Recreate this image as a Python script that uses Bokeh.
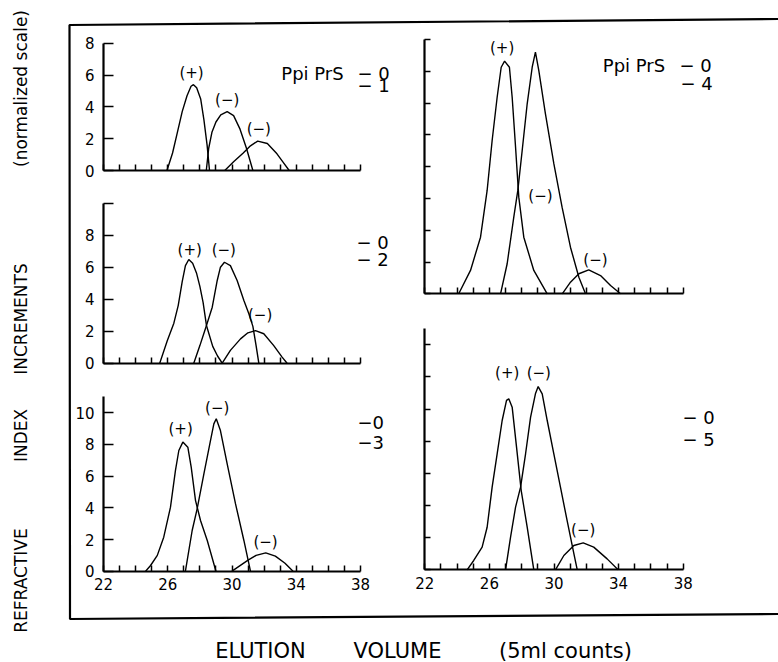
import math
from bokeh.plotting import figure
from bokeh.models import Range1d, LinearAxis, FixedTicker
from bokeh.core.properties import value
from bokeh.embed import file_html
from bokeh.resources import INLINE

# ---------------- data ----------------
x_ticks = list(range(22, 39))
x_tick_labels = [22, 26, 30, 34, 38]

# Panel 1: PpiPrS 0 / 1
p1_plus_x = [25.95, 26.3, 26.6, 26.9, 27.2, 27.45, 27.6, 27.8, 28.05, 28.25, 28.45, 28.6]
p1_plus_y = [0, 1.1, 2.4, 3.7, 4.7, 5.3, 5.4, 5.2, 4.5, 3.2, 1.6, 0]
p1_minA_x = [28.4, 28.55, 28.75, 29.0, 29.3, 29.7, 30.1, 30.5, 30.9, 31.3]
p1_minA_y = [0, 1.4, 2.4, 3.05, 3.5, 3.7, 3.45, 2.6, 1.4, 0]
p1_minB_x = [29.55, 30.1, 30.7, 31.15, 31.6, 32.2, 32.8, 33.2, 33.56]
p1_minB_y = [0, 0.55, 1.1, 1.55, 1.85, 1.7, 1.05, 0.5, 0]

# Panel 2: 0 / 2
p2_plus_x = [25.5, 25.97, 26.38, 26.65, 26.9, 27.1, 27.31, 27.55, 27.8, 28.0, 28.2, 28.41, 28.8, 29.1, 29.39]
p2_plus_y = [0, 1.4, 2.5, 3.6, 5.1, 6.1, 6.48, 6.25, 5.6, 4.8, 3.8, 2.36, 1.05, 0.45, 0]
p2_minA_x = [27.62, 28.0, 28.41, 28.77, 29.08, 29.28, 29.53, 29.9, 30.32, 30.74, 31.05, 31.3, 31.5, 31.67]
p2_minA_y = [0, 1.1, 2.36, 3.5, 5.17, 6.0, 6.31, 6.1, 5.17, 3.92, 3.09, 2.3, 1.1, 0]
p2_minB_x = [29.39, 29.9, 30.53, 30.99, 31.46, 31.98, 32.6, 33.12, 33.43]
p2_minB_y = [0, 0.8, 1.52, 1.9, 2.04, 1.84, 1.1, 0.38, 0]

# Panel 3: 0 / 3
p3_plus_x = [24.62, 24.93, 25.35, 25.75, 26.17, 26.48, 26.69, 26.94, 27.25, 27.46, 27.73, 28.04, 28.46, 28.75, 29.0]
p3_plus_y = [0, 0.36, 1.0, 2.15, 4.04, 6.36, 7.62, 8.15, 7.83, 6.57, 4.46, 3.2, 1.94, 0.9, 0]
p3_minA_x = [27.1, 27.52, 27.83, 28.25, 28.66, 28.87, 29.02, 29.28, 29.7, 30.22, 30.74, 31.15]
p3_minA_y = [0, 2.57, 3.94, 6.15, 8.25, 9.3, 9.62, 8.88, 6.78, 4.25, 1.94, 0]
p3_minB_x = [30.0, 30.5, 31.0, 31.5, 32.1, 32.7, 33.3, 33.8]
p3_minB_y = [0, 0.35, 0.7, 1.0, 1.16, 0.95, 0.5, 0]

# Panel 4: PpiPrS 0 / 4
p4_plus_x = [24.1, 24.83, 25.45, 25.86, 26.17, 26.48, 26.73, 26.94, 27.24, 27.41, 27.62, 27.82, 28.13, 28.75, 29.58]
p4_plus_y = [0, 1.47, 3.56, 6.5, 9.64, 12.36, 14.25, 14.63, 14.25, 12.36, 9.22, 6.08, 3.56, 1.47, 0]
p4_minA_x = [26.69, 27.1, 27.51, 27.76, 28.03, 28.34, 28.65, 28.85, 29.06, 29.47, 29.99, 30.5, 31.02, 31.54, 31.95]
p4_minA_y = [0, 1.89, 4.82, 6.5, 9.01, 11.95, 14.25, 15.2, 14.04, 11.32, 8.18, 5.45, 2.93, 1.04, 0]
p4_minB_x = [30.51, 31.02, 31.54, 32.15, 32.88, 33.5, 34.12]
p4_minB_y = [0, 0.73, 1.26, 1.51, 1.15, 0.52, 0]

# Panel 5: 0 / 5
p5_plus_x = [24.62, 25.03, 25.55, 25.86, 26.17, 26.48, 26.79, 27.06, 27.2, 27.41, 27.68, 27.97, 28.34, 28.75]
p5_plus_y = [0, 0.58, 1.41, 2.65, 5.14, 7.22, 9.29, 10.54, 10.64, 10.12, 7.63, 4.93, 2.65, 0]
p5_minA_x = [27.0, 27.31, 27.62, 27.93, 28.24, 28.55, 28.85, 29.02, 29.27, 29.58, 29.99, 30.4, 30.81, 31.23, 31.44]
p5_minA_y = [0, 2.03, 3.9, 5.14, 7.22, 9.5, 10.95, 11.4, 10.95, 9.29, 7.22, 5.14, 3.07, 1.0, 0]
p5_minB_x = [30.09, 30.61, 31.23, 31.81, 32.46, 33.29, 33.97]
p5_minB_y = [0, 0.89, 1.51, 1.68, 1.41, 0.68, 0]

peak_signs = ["(+)", "(\u2212)", "(\u2212)"]

# ---------------- layout / style ----------------
FONT = "DejaVu Sans"
W, H = 778, 662

panels = [
    dict(name="p1", x22=103, x38=360, y0=170.0, sy=15.9, ytop=8, yticks=[0, 2, 4, 6, 8],
         ylab=True, xlab=False, ytl=10,
         curves=[(p1_plus_x, p1_plus_y), (p1_minA_x, p1_minA_y), (p1_minB_x, p1_minB_y)],
         lab_xy=[(27.48, 6.15), (29.7, 4.45), (31.67, 2.62)]),
    dict(name="p2", x22=103, x38=360, y0=362.7, sy=16.0, ytop=10, yticks=[0, 2, 4, 6, 8, 10],
         ylab=True, xlab=False, ytl=10,
         curves=[(p2_plus_x, p2_plus_y), (p2_minA_x, p2_minA_y), (p2_minB_x, p2_minB_y)],
         lab_xy=[(27.37, 7.1), (29.49, 7.1), (31.75, 3.0)]),
    dict(name="p3", x22=103, x38=360, y0=570.7, sy=15.84, ytop=11, yticks=[0, 2, 4, 6, 8, 10],
         ylab=True, xlab=True, ytl=10,
         curves=[(p3_plus_x, p3_plus_y), (p3_minA_x, p3_minA_y), (p3_minB_x, p3_minB_y)],
         lab_xy=[(26.8, 9.0), (29.08, 10.3), (32.09, 1.85)]),
    dict(name="p4", x22=424.3, x38=682.7, y0=293.3, sy=15.9, ytop=16, yticks=list(range(0, 17, 2)),
         ylab=False, xlab=False, ytl=6,
         curves=[(p4_plus_x, p4_plus_y), (p4_minA_x, p4_minA_y), (p4_minB_x, p4_minB_y)],
         lab_xy=[(26.79, 15.45), (29.16, 6.18), (32.57, 2.1)]),
    dict(name="p5", x22=424.3, x38=682.7, y0=569.3, sy=16.07, ytop=15, yticks=list(range(0, 15, 2)),
         ylab=False, xlab=True, ytl=6,
         curves=[(p5_plus_x, p5_plus_y), (p5_minA_x, p5_minA_y), (p5_minB_x, p5_minB_y)],
         lab_xy=[(27.1, 12.25), (29.06, 12.25), (31.81, 2.45)]),
]

p = figure(width=W, height=H, x_range=Range1d(0, W), y_range=Range1d(H, 0),
           output_backend="svg", toolbar_location=None,
           x_axis_location=None, y_axis_location=None,
           min_border=0, outline_line_color=None,
           background_fill_color="white", border_fill_color="white")
p.xgrid.visible = False
p.ygrid.visible = False

xr_map, yr_map = {}, {}
for pn in panels:
    s = (pn["x38"] - pn["x22"]) / 16.0
    xr_map[pn["name"]] = Range1d(22 - pn["x22"] / s, 22 + (W - pn["x22"]) / s)
    yr_map[pn["name"]] = Range1d((pn["y0"] - H) / pn["sy"], pn["y0"] / pn["sy"])
p.extra_x_ranges = xr_map
p.extra_y_ranges = yr_map

for pn in panels:
    n = pn["name"]
    xa = LinearAxis(x_range_name=n, y_range_name=n, fixed_location=0, bounds=(22, 38),
                    ticker=FixedTicker(ticks=x_ticks, minor_ticks=[]),
                    major_label_overrides={t: (str(t) if (pn["xlab"] and t in x_tick_labels) else "")
                                           for t in x_ticks},
                    major_tick_in=6, major_tick_out=0, minor_tick_in=0, minor_tick_out=0,
                    axis_line_width=2.2, axis_line_color="black",
                    major_tick_line_width=1.5, major_tick_line_color="black",
                    major_label_standoff=7, major_label_text_font=FONT,
                    major_label_text_font_size="15px", major_label_text_color="black")
    p.add_layout(xa, "below")
    ya = LinearAxis(x_range_name=n, y_range_name=n, fixed_location=22, bounds=(0, pn["ytop"]),
                    ticker=FixedTicker(ticks=pn["yticks"], minor_ticks=[]),
                    major_label_overrides={t: (str(t) if (pn["ylab"] and t <= 10 and not (n == "p2" and t == 10)) else "")
                                           for t in pn["yticks"]},
                    major_tick_in=pn["ytl"], major_tick_out=0, minor_tick_in=0, minor_tick_out=0,
                    axis_line_width=2.2, axis_line_color="black",
                    major_tick_line_width=1.5, major_tick_line_color="black",
                    major_label_standoff=9, major_label_text_font=FONT,
                    major_label_text_font_size="15px", major_label_text_color="black")
    p.add_layout(ya, "left")
    for cx, cy in pn["curves"]:
        p.line(x=cx, y=cy, x_range_name=n, y_range_name=n, line_color="black", line_width=1.4)
    p.text(x=[a for a, b in pn["lab_xy"]], y=[b for a, b in pn["lab_xy"]], text=peak_signs,
           x_range_name=n, y_range_name=n, text_font=value(FONT), text_font_size="15px",
           text_align="center", text_baseline="middle", text_color="black")

# outer frame (partially cropped on the right in the original)
p.line(x=[W, 69, 69.5, W], y=[18.5, 24.5, 618.5, 613.5], line_color="black", line_width=2.2)

# legends / sample captions
p.text(x=[312, 633.5], y=[72.5, 64.5], text=["Ppi PrS", "Ppi PrS"], text_font=value(FONT),
       text_font_size="18px", text_align="center", text_baseline="middle", text_color="black")
p.text(x=[357, 357, 356, 356, 357, 357, 679, 680, 682, 682],
       y=[72.5, 84.5, 241.7, 259, 421.7, 441.7, 64.5, 82.7, 416.7, 439],
       text=["\u2212 0", "\u2212 1", "\u2212 0", "\u2212 2", "\u22120", "\u22123",
             "\u2212 0", "\u2212 4", "\u2212 0", "\u2212 5"],
       text_font=value(FONT), text_font_size="18px", text_align="left",
       text_baseline="middle", text_color="black")

# axis titles
p.text(x=[20, 20, 20, 20], y=[580, 435, 318.5, 88],
       text=["REFRACTIVE", "INDEX", "INCREMENTS", "(normalized scale)"],
       angle=math.pi / 2, text_font=value(FONT), text_font_size="17px",
       text_align="center", text_baseline="middle", text_color="black")
p.text(x=[260, 397, 565], y=[650, 650, 650],
       text=["ELUTION", "VOLUME", "(5ml counts)"],
       text_font=value(FONT), text_font_size="21px",
       text_align="center", text_baseline="middle", text_color="black")

open("out.html", "w").write(file_html(p, INLINE))
